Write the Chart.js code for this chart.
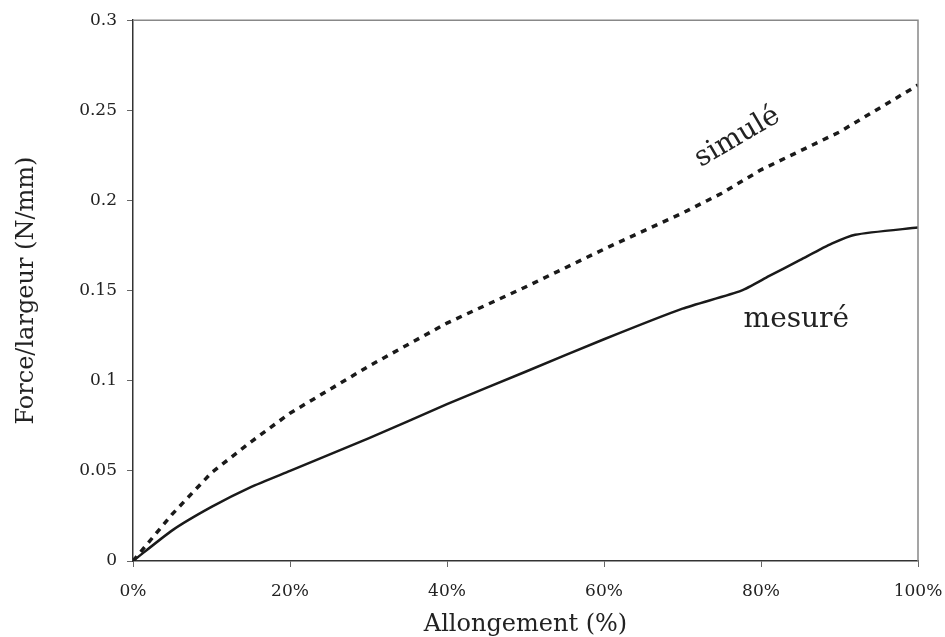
<!DOCTYPE html>
<html>
<head>
<meta charset="utf-8">
<script src="https://cdn.jsdelivr.net/npm/chart.js@4.4.0/dist/chart.umd.min.js"></script>
<style>
  html, body { margin: 0; padding: 0; background: #fff; }
  #wrap { width: 945px; height: 637px; }
</style>
</head>
<body>
<div id="wrap"><canvas id="chart" width="945" height="637"></canvas></div>
<script>
const X_TICKS = [0, 20, 40, 60, 80, 100];
const Y_TICKS = [0, 0.05, 0.1, 0.15, 0.2, 0.25, 0.3];

const mesureX = [0, 5, 10, 15, 20, 30, 40, 50, 60, 70, 77.5, 81, 85, 89, 92, 100];
const mesureY = [0, 0.017, 0.030, 0.041, 0.050, 0.068, 0.087, 0.105, 0.123, 0.140, 0.150, 0.158, 0.167, 0.176, 0.181, 0.185];

const simuleX = [0, 5, 10, 15, 20, 25, 30, 40, 50, 60, 70, 75, 80, 90, 100];
const simuleY = [0, 0.026, 0.049, 0.066, 0.082, 0.095, 0.108, 0.132, 0.152, 0.173, 0.193, 0.204, 0.217, 0.238, 0.264];

const LINE_COLOR = "#1a1a1a";
const TEXT_COLOR = "#222";
const SERIF = "'DejaVu Serif', 'Liberation Serif', serif";

function toPoints(xs, ys) {
  return xs.map((x, i) => ({ x: x, y: ys[i] }));
}

// top and right frame lines plus the two curve labels
const framePlugin = {
  id: "frame",
  afterDraw(chart) {
    const { ctx, chartArea } = chart;
    ctx.save();
    ctx.strokeStyle = "#888";
    ctx.lineWidth = 1.5;
    ctx.beginPath();
    ctx.moveTo(chartArea.left, chartArea.top);
    ctx.lineTo(chartArea.right, chartArea.top);
    ctx.lineTo(chartArea.right, chartArea.bottom);
    ctx.stroke();

    const xs = chart.scales.x;
    const ys = chart.scales.y;
    ctx.fillStyle = TEXT_COLOR;
    ctx.font = "28px " + SERIF;
    ctx.textAlign = "center";
    ctx.textBaseline = "middle";

    ctx.save();
    ctx.translate(xs.getPixelForValue(77), ys.getPixelForValue(0.235));
    ctx.rotate(-0.53);
    ctx.fillText("simulé", 0, 0);
    ctx.restore();

    ctx.fillText("mesuré", xs.getPixelForValue(84.5), ys.getPixelForValue(0.134));
    ctx.restore();
  },
};

const ctx = document.getElementById("chart").getContext("2d");
new Chart(ctx, {
  type: "line",
  data: {
    datasets: [
      {
        label: "simulé",
        data: toPoints(simuleX, simuleY),
        borderColor: LINE_COLOR,
        borderWidth: 3.5,
        borderDash: [6, 6],
        pointRadius: 0,
        fill: false,
        tension: 0,
      },
      {
        label: "mesuré",
        data: toPoints(mesureX, mesureY),
        borderColor: LINE_COLOR,
        borderWidth: 2.5,
        pointRadius: 0,
        fill: false,
        tension: 0.2,
      },
    ],
  },
  options: {
    responsive: false,
    animation: false,
    layout: { padding: { top: 17, right: 27, left: 8, bottom: 0 } },
    plugins: {
      legend: { display: false },
      tooltip: { enabled: false },
    },
    scales: {
      x: {
        type: "linear",
        min: 0,
        max: 100,
        afterBuildTicks: (scale) => {
          scale.ticks = X_TICKS.map((v) => ({ value: v }));
        },
        afterFit: (scale) => {
          scale.height = 76;
          // let the 100% label hang past the frame like the original
          scale.paddingLeft = 0;
          scale.paddingRight = 0;
        },
        border: { color: "#333", width: 1.5 },
        grid: {
          drawOnChartArea: false,
          drawTicks: true,
          tickLength: 6,
          color: "#666",
        },
        ticks: {
          color: TEXT_COLOR,
          font: { family: SERIF, size: 17 },
          padding: 14,
          maxRotation: 0,
          callback: (v) => v + "%",
        },
        title: {
          display: true,
          text: "Allongement (%)",
          color: TEXT_COLOR,
          font: { family: SERIF, size: 24 },
          padding: { top: 6, bottom: -2 },
        },
      },
      y: {
        min: 0,
        max: 0.3,
        afterBuildTicks: (scale) => {
          scale.ticks = Y_TICKS.map((v) => ({ value: v }));
        },
        afterFit: (scale) => {
          scale.width = 125;
        },
        border: { color: "#333", width: 1.5 },
        grid: {
          drawOnChartArea: false,
          drawTicks: true,
          tickLength: 6,
          color: "#666",
        },
        ticks: {
          color: TEXT_COLOR,
          font: { family: SERIF, size: 17 },
          padding: 10,
          callback: (v) => String(v),
        },
        title: {
          display: true,
          text: "Force/largeur (N/mm)",
          color: TEXT_COLOR,
          font: { family: SERIF, size: 24 },
          padding: { bottom: 0 },
        },
      },
    },
  },
  plugins: [framePlugin],
});
</script>
</body>
</html>
